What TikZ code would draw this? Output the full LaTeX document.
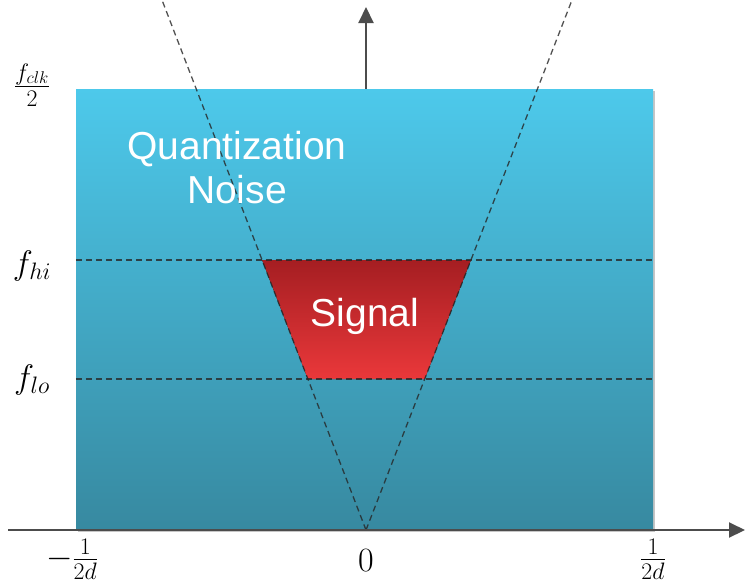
\RequirePackage{fix-cm}
\documentclass[tikz,border=0pt]{standalone}
\usepackage{amsmath}
\usepackage{fontspec}
\newfontfamily\labelfont{Liberation Sans}
\usetikzlibrary{arrows.meta,calc,shadows}
\definecolor{noisetop}{RGB}{77,201,235}
\definecolor{noisebot}{RGB}{55,137,160}
\definecolor{sigtop}{RGB}{165,30,34}
\definecolor{sigbot}{RGB}{234,56,58}

\begin{document}
\begin{tikzpicture}[
    x=1pt, y=-1pt,
    >={Triangle[length=16pt,width=15pt]},
    axis/.style={->, line width=2pt, draw=black!70},
    guide/.style={dash pattern=on 6pt off 4pt, line width=1.3pt, draw=black!85, opacity=0.8},
    mathlbl/.style={font=\fontsize{34}{40}\selectfont, inner sep=0pt},
    boxtext/.style={font=\labelfont\fontsize{39}{44}\selectfont, text=white, align=center, inner sep=0pt}
]
    \useasboundingbox (0,0) rectangle (746,584);

    % axes
    \coordinate (O) at (366,530);
    \coordinate (xstart) at (8,530);
    \coordinate (xend) at (745,530);
    \coordinate (ytop) at (366,7);
    \draw[axis] (O) -- (ytop);

    % quantization noise box
    \node[top color=noisetop, bottom color=noisebot, minimum width=577pt, minimum height=441pt,
          inner sep=0pt, drop shadow={opacity=0.45, shadow xshift=2pt, shadow yshift=-2pt}] (noise) at (364.5,309.5) {};

    % noise shaping V and band edges
    \coordinate (vl) at (162,0);
    \coordinate (vr) at (572,0);
    \coordinate (hi) at (0,260);
    \coordinate (lo) at (0,379);
    \coordinate (hl) at ($(O)!0.5094!(vl)$);
    \coordinate (hr) at ($(O)!0.5094!(vr)$);
    \coordinate (ll) at ($(O)!0.2849!(vl)$);
    \coordinate (lr) at ($(O)!0.2849!(vr)$);

    % signal band
    \fill[top color=sigtop, bottom color=sigbot] (hl) -- (hr) -- (lr) -- (ll) -- cycle;

    \draw[guide] (O) -- (vl);
    \draw[guide] (O) -- (vr);
    \draw[guide] (noise.west |- hi) -- (noise.east |- hi);
    \draw[guide] (noise.west |- lo) -- (noise.east |- lo);

    \node[boxtext] (qnoise) at (237,168) {Quantization\\Noise};
    \node[boxtext] (signal) at (365,316) {Signal};

    \draw[axis] (xstart) -- (xend);

    % labels
    \node[mathlbl] (fclk) at (32,85) {$\frac{f_{clk}}{2}$};
    \node[mathlbl] (fhi) at (32,266) {$f_{hi}$};
    \node[mathlbl] (flo) at (32,380) {$f_{lo}$};
    \node[mathlbl] (xmin) at (72,559) {$-\frac{1}{2d}$};
    \node[mathlbl] (zero) at (366,561) {$0$};
    \node[mathlbl] (xmax) at (653,559) {$\frac{1}{2d}$};
\end{tikzpicture}
\end{document}
